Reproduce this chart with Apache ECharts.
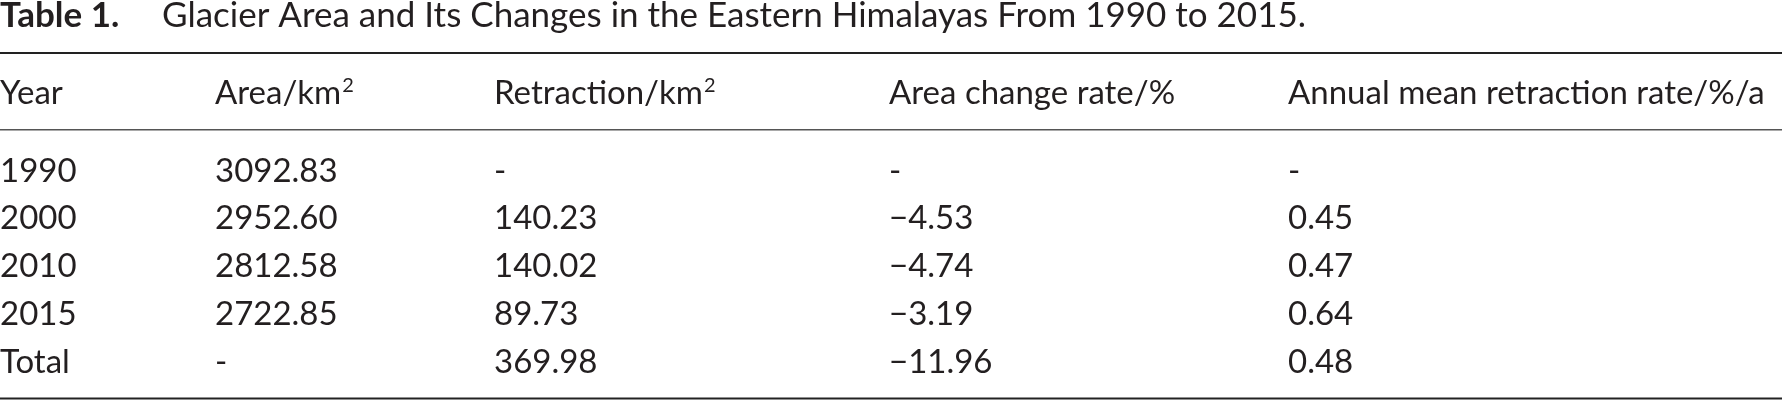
<!DOCTYPE html>
<html>
<head>
<meta charset="utf-8">
<script src="https://cdn.jsdelivr.net/npm/echarts@6/dist/echarts.min.js"></script>
<style>
html,body{margin:0;padding:0;background:#fff;}
#chart{width:1782px;height:400px;}
</style>
</head>
<body>
<div id="chart"></div>
<script>
// ---- data ----
const titleBold = 'Table 1.';
const titleText = 'Glacier Area and Its Changes in the Eastern Himalayas From 1990 to 2015.';
const headers = ['Year', 'Area/km', 'Retraction/km', 'Area change rate/%', 'Annual mean retraction rate/%/a'];
const headerSup = ['', '2', '2', '', ''];
const years = ['1990', '2000', '2010', '2015', 'Total'];
const area = [3092.83, 2952.60, 2812.58, 2722.85, null];
const retraction = [null, 140.23, 140.02, 89.73, 369.98];
const areaChangeRate = [null, -4.53, -4.74, -3.19, -11.96];
const annualRetractionRate = [null, 0.45, 0.47, 0.64, 0.48];

// ---- layout ----
const W = 1782;
const colLeft = [0, 215, 494, 889, 1288];
const FONT = 'Lato';
const FS = 33;
const INK = '#231f20';

function fmt(v) {
  if (v === null || v === undefined) return '-';
  if (v < 0) return '\u2212' + Math.abs(v).toFixed(2);
  return v.toFixed(2);
}

const cells = [];
years.forEach((y, r) => {
  const vals = [y, fmt(area[r]), fmt(retraction[r]), fmt(areaChangeRate[r]), fmt(annualRetractionRate[r])];
  vals.forEach((t, c) => cells.push([colLeft[c], r, t]));
});

const chart = echarts.init(document.getElementById('chart'), null, {renderer: 'canvas'});
const option = {
  animation: false,
  backgroundColor: '#fff',
  grid: {left: 0, right: 0, top: 147, bottom: 14},
  xAxis: {type: 'value', min: 0, max: W, show: false},
  yAxis: {type: 'category', data: years, inverse: true, show: false},
  series: [{
    type: 'custom',
    data: cells,
    renderItem: function (params, api) {
      const p = api.coord([api.value(0), api.value(1)]);
      return {
        type: 'text',
        x: p[0], y: p[1],
        style: {
          text: String(cells[params.dataIndex][2]),
          fontFamily: FONT, fontSize: FS, fill: INK,
          align: 'left', verticalAlign: 'middle'
        }
      };
    }
  }],
  graphic: [
    {type: 'text', x: 0, y: 16, style: {text: titleBold, fontFamily: FONT, fontWeight: 'bold', fontSize: 35, fill: INK, verticalAlign: 'middle'}},
    {type: 'text', x: 162, y: 16, style: {text: titleText, fontFamily: FONT, fontSize: 35, fill: INK, verticalAlign: 'middle'}},
    {type: 'rect', shape: {x: 0, y: 52, width: W, height: 2}, style: {fill: '#222'}},
    {type: 'rect', shape: {x: 0, y: 129, width: W, height: 1.6}, style: {fill: '#555'}},
    {type: 'rect', shape: {x: 0, y: 397.5, width: W, height: 2}, style: {fill: '#222'}}
  ].concat(headers.map((h, c) => ({
    type: 'text', x: colLeft[c], y: 92,
    style: {
      text: '{m|' + h + '}' + (headerSup[c] ? '{sup|' + headerSup[c] + '}' : ''),
      verticalAlign: 'middle',
      rich: {
        m: {fontFamily: FONT, fontSize: FS, fill: INK, lineHeight: 36, verticalAlign: 'bottom'},
        sup: {fontFamily: FONT, fontSize: 20, fill: INK, lineHeight: 36, verticalAlign: 'bottom', padding: [0, 0, 14, 1]}
      }
    }
  })))
};
chart.setOption(option);
</script>
</body>
</html>
